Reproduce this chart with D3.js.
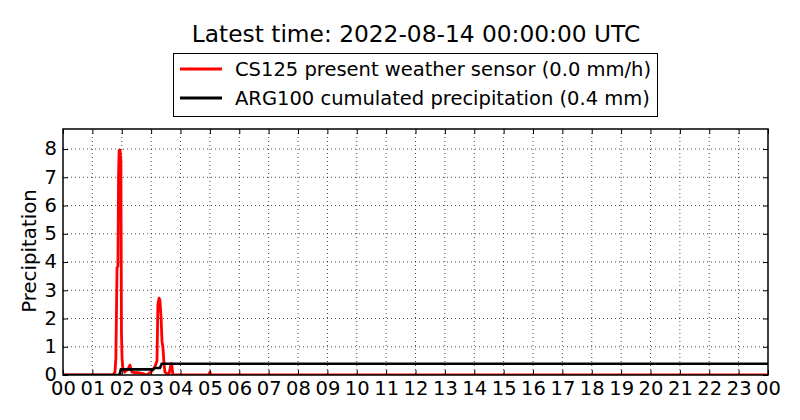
<!DOCTYPE html>
<html><head><meta charset="utf-8">
<script src="https://cdn.jsdelivr.net/npm/d3@7"></script>
<style>body{margin:0;background:#fff;} text{font-family:"DejaVu Sans",sans-serif;}</style>
</head><body><svg id="c" width="800" height="420"></svg>
<script>
const title = "Latest time: 2022-08-14 00:00:00 UTC";
const legendLabels = ["CS125 present weather sensor (0.0 mm/h)", "ARG100 cumulated precipitation (0.4 mm)"];
const seriesColors = ["#ff0000", "#000000"];
const yLabel = "Precipitation";
const xTickLabels = ["00","01","02","03","04","05","06","07","08","09","10","11","12","13","14","15","16","17","18","19","20","21","22","23","00"];
const yTicks = [0,1,2,3,4,5,6,7,8];
// red: present weather sensor intensity (hours since 00 UTC, mm/h)
const redT = [0, 1.70, 1.77, 1.80, 1.84, 1.87, 1.89, 1.91, 1.94, 1.97, 1.99, 2.01, 2.04, 2.10, 2.14, 2.21, 2.28, 2.31, 2.35, 2.45, 2.55, 2.72, 2.86, 3.03, 3.13, 3.20, 3.23, 3.27, 3.30, 3.34, 3.37, 3.40, 3.44, 3.47, 3.54, 3.61, 3.68, 3.71, 3.74, 4.97, 5.00, 5.03, 24];
const redV = [0, 0, 0.1, 0.6, 3.8, 3.85, 7.0, 7.95, 7.97, 7.6, 1.5, 0.6, 0.2, 0.1, 0.15, 0.2, 0.35, 0.2, 0.1, 0.08, 0.08, 0.05, 0, 0.15, 0.3, 0.5, 2.5, 2.72, 2.65, 2.0, 1.2, 1.0, 0.4, 0.1, 0.05, 0.05, 0.4, 0.3, 0, 0, 0.1, 0, 0];
// black: cumulated precipitation (mm)
const blackT = [0, 1.92, 1.97, 3.07, 3.12, 3.30, 3.36, 24];
const blackV = [0, 0, 0.2, 0.2, 0.25, 0.25, 0.4, 0.4];

const svg = d3.select("#c");
const L = 63, R = 768, T = 129, B = 375;
const x = d3.scaleLinear().domain([0, 24]).range([L, R]);
const y = d3.scaleLinear().domain([0, 8.71]).range([B, T]);

svg.append("text").attr("x", 416).attr("y", 42).attr("text-anchor","middle")
  .attr("font-size", 23.3).text(title);

// grid
const g = svg.append("g");
d3.range(1, 24).forEach(h => g.append("line").attr("x1", x(h)).attr("x2", x(h)).attr("y1", T).attr("y2", B)
  .attr("stroke","#000").attr("stroke-width",0.7).attr("stroke-dasharray","1,3"));
yTicks.slice(1).forEach(v => g.append("line").attr("x1", L).attr("x2", R).attr("y1", y(v)).attr("y2", y(v))
  .attr("stroke","#000").attr("stroke-width",0.7).attr("stroke-dasharray","1,3"));

// clip + data lines
svg.append("clipPath").attr("id","clip").append("rect").attr("x",L).attr("y",T).attr("width",R-L).attr("height",B-T);
const line = d3.line().x(d=>x(d[0])).y(d=>y(d[1]));
svg.append("path").attr("clip-path","url(#clip)").datum(redT.map((t,i)=>[t,redV[i]]))
  .attr("d",line).attr("fill","none").attr("stroke",seriesColors[0]).attr("stroke-width",2.8).attr("stroke-linejoin","round");
svg.append("path").attr("clip-path","url(#clip)").datum(blackT.map((t,i)=>[t,blackV[i]]))
  .attr("d",line).attr("fill","none").attr("stroke",seriesColors[1]).attr("stroke-width",2.6);

// axes via d3
const xAxis = d3.axisBottom(x).tickValues(d3.range(0,25)).tickFormat((d,i)=>xTickLabels[i]).tickSizeInner(-5).tickSizeOuter(0).tickPadding(6);
const ax = svg.append("g").attr("transform",`translate(0,${B})`).call(xAxis);
ax.select(".domain").remove();
ax.selectAll("text").attr("font-size",19.5).attr("font-family","DejaVu Sans").attr("fill","#000").attr("dy","0.71em");
ax.selectAll("line").attr("stroke","#000");
const xAxisTop = d3.axisTop(x).tickValues(d3.range(0,25)).tickFormat("").tickSizeInner(-5).tickSizeOuter(0);
const axt = svg.append("g").attr("transform",`translate(0,${T})`).call(xAxisTop);
axt.select(".domain").remove();

const yAxis = d3.axisLeft(y).tickValues(yTicks).tickFormat(d3.format("d")).tickSizeInner(-5).tickSizeOuter(0).tickPadding(6);
const ay = svg.append("g").attr("transform",`translate(${L},0)`).call(yAxis);
ay.select(".domain").remove();
ay.selectAll("text").attr("font-size",19.5).attr("font-family","DejaVu Sans").attr("fill","#000").attr("dy","0.3em");
const yAxisR = d3.axisRight(y).tickValues(yTicks).tickFormat("").tickSizeInner(-5).tickSizeOuter(0);
const ayr = svg.append("g").attr("transform",`translate(${R},0)`).call(yAxisR);
ayr.select(".domain").remove();

svg.append("text").attr("transform",`translate(36,${(T+B)/2 - 1}) rotate(-90)`).attr("text-anchor","middle")
  .attr("font-size",19.8).text(yLabel);

// frame
svg.append("rect").attr("x",L).attr("y",T).attr("width",R-L).attr("height",B-T).attr("fill","none").attr("stroke","#000").attr("stroke-width",1.5);

// legend
const lg = svg.append("g");
lg.append("rect").attr("x",173.5).attr("y",53.5).attr("width",484).attr("height",63).attr("fill","#fff").attr("stroke","#000");
legendLabels.forEach((lab,i)=>{
  const yy = 69 + i*29;
  lg.append("line").attr("x1",180).attr("x2",222).attr("y1",yy).attr("y2",yy).attr("stroke",seriesColors[i]).attr("stroke-width",2.8);
  lg.append("text").attr("x",235).attr("y",yy).attr("dy","0.35em").attr("font-size",19.5).text(lab);
});
</script></body></html>
